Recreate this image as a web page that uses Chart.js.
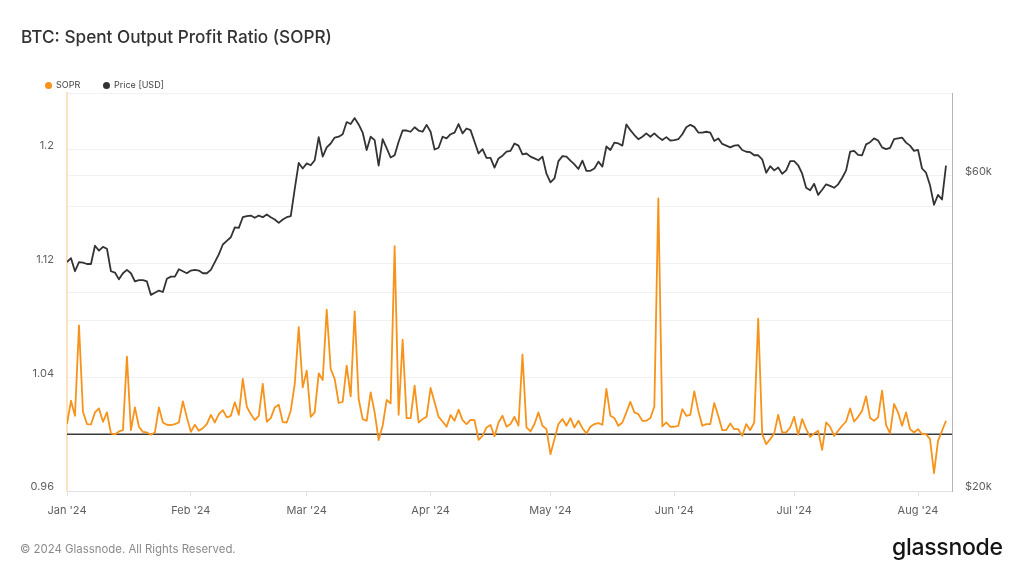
<!DOCTYPE html>
<html>
<head>
<meta charset="utf-8">
<script src="https://cdn.jsdelivr.net/npm/chart.js@4.4.1/dist/chart.umd.min.js"></script>
<style>
  html, body { margin: 0; padding: 0; background: #fff; }
  #wrap { position: relative; width: 1023px; height: 576px; overflow: hidden; font-family: Inter, "Noto Sans", sans-serif; }
  #c { position: absolute; left: 0; top: 0; }
  .title { position: absolute; left: 21px; top: 26px; font-size: 17.2px; font-weight: 500; color: #333; white-space: nowrap; }
  .legend { position: absolute; top: 78px; font-size: 9px; color: #444; white-space: nowrap; line-height: 14px; }
  .legend .dot { display: inline-block; width: 7px; height: 7px; border-radius: 50%; margin-right: 4px; vertical-align: -0.5px; }
  .footer { position: absolute; left: 20px; top: 542px; font-size: 11.4px; color: #8a8a8a; white-space: nowrap; }
  .logo { position: absolute; left: 892px; top: 533px; font-size: 23px; font-weight: 500; color: #141414; letter-spacing: -0.3px; white-space: nowrap; }
</style>
</head>
<body>
<div id="wrap">
  <canvas id="c" width="1023" height="576"></canvas>
  <div class="title">BTC: Spent Output Profit Ratio (SOPR)</div>
  <div class="legend" style="left:45px"><span class="dot" style="background:#f7931a"></span>SOPR</div>
  <div class="legend" style="left:103px"><span class="dot" style="background:#333"></span>Price [USD]</div>
  <div class="footer">© 2024 Glassnode. All Rights Reserved.</div>
  <div class="logo">glassnode</div>
</div>
<script>
// Daily values, 1 Jan 2024 .. 8 Aug 2024 (index = day of year - 1)
const sopr = [
  1.0071, 1.0235, 1.0129, 1.0765, 1.0158, 1.0071, 1.0068, 1.0153, 1.0181, 1.0087,
  1.0153, 1.0005, 0.9998, 1.0019, 1.0028, 1.0546, 1.0028, 1.0188, 1.0052, 1.0016,
  1.0012, 0.9995, 1.0012, 1.0188, 1.0082, 1.0066, 1.0064, 1.0071, 1.0082, 1.0231,
  1.0118, 1.0016, 1.0066, 1.0024, 1.0042, 1.0071, 1.0136, 1.0082, 1.0141, 1.0169,
  1.0118, 1.0129, 1.0224, 1.0136, 1.0388, 1.0193, 1.0141, 1.0099, 1.0129, 1.0353,
  1.0087, 1.0113, 1.0188, 1.0207, 1.0085, 1.0082, 1.0165, 1.0353, 1.0753, 1.0329,
  1.0447, 1.0122, 1.0153, 1.0428, 1.0381, 1.0875, 1.0459, 1.0388, 1.0219, 1.0228,
  1.0482, 1.0266, 1.0864, 1.0247, 1.0106, 1.0094, 1.0294, 1.0153, 0.9958, 1.0059,
  1.0240, 1.0216, 1.1322, 1.0136, 1.0664, 1.0113, 1.0113, 1.0341, 1.0082, 1.0106,
  1.0122, 1.0325, 1.0224, 1.0122, 1.0089, 1.0052, 1.0134, 1.0094, 1.0172, 1.0099,
  1.0071, 1.0101, 1.0099, 0.9960, 0.9988, 1.0047, 1.0064, 0.9984, 1.0082, 1.0129,
  1.0052, 1.0071, 1.0122, 1.0059, 1.0560, 1.0047, 1.0019, 1.0071, 1.0153, 1.0059,
  1.0035, 0.9859, 0.9965, 1.0071, 1.0106, 1.0059, 1.0113, 1.0047, 1.0094, 1.0042,
  1.0005, 1.0052, 1.0071, 1.0078, 1.0066, 1.0318, 1.0129, 1.0113, 1.0059, 1.0082,
  1.0153, 1.0228, 1.0153, 1.0141, 1.0094, 1.0094, 1.0113, 1.0193, 1.1659, 1.0054,
  1.0082, 1.0052, 1.0052, 1.0059, 1.0176, 1.0129, 1.0136, 1.0301, 1.0165, 1.0059,
  1.0071, 1.0071, 1.0219, 1.0129, 1.0028, 1.0028, 1.0075, 1.0035, 1.0035, 0.9988,
  1.0071, 1.0028, 1.0082, 1.0812, 1.0000, 0.9929, 0.9965, 1.0005, 1.0136, 1.0012,
  1.0012, 1.0047, 1.0122, 0.9995, 1.0106, 1.0035, 0.9981, 1.0005, 1.0024, 0.9889,
  1.0082, 1.0052, 0.9988, 1.0024, 1.0059, 1.0089, 1.0181, 1.0089, 1.0122, 1.0165,
  1.0266, 1.0113, 1.0094, 1.0118, 1.0306, 1.0064, 1.0005, 1.0212, 1.0153, 1.0059,
  1.0153, 1.0035, 1.0012, 1.0035, 1.0000, 1.0000, 0.9965, 0.9725, 0.9953, 1.0024,
  1.0094
];

// BTC price in thousands of USD
const priceK = [
  44.4, 45.0, 43.0, 44.4, 44.3, 44.1, 44.1, 47.0, 46.2, 46.8,
  46.5, 43.0, 42.8, 41.8, 42.7, 43.2, 42.7, 41.5, 41.7, 41.7,
  41.5, 39.6, 39.9, 40.2, 40.0, 41.9, 42.2, 42.2, 43.3, 43.0,
  42.7, 43.1, 43.2, 43.1, 42.7, 42.7, 43.2, 44.4, 45.6, 47.2,
  47.8, 48.4, 50.1, 50.0, 51.9, 52.1, 52.2, 51.8, 52.2, 51.9,
  52.4, 51.9, 51.5, 50.9, 51.5, 51.9, 52.1, 57.3, 62.7, 61.5,
  62.6, 62.2, 63.3, 68.6, 64.1, 66.2, 67.1, 68.5, 68.7, 69.3,
  72.3, 71.8, 73.3, 71.7, 69.7, 65.6, 68.7, 67.9, 62.1, 68.1,
  66.0, 63.9, 64.4, 67.5, 70.2, 70.2, 69.9, 71.0, 70.2, 69.9,
  71.6, 69.9, 65.7, 66.1, 68.7, 68.3, 69.3, 69.7, 71.8, 69.5,
  70.7, 70.3, 67.5, 64.8, 65.8, 63.8, 63.8, 61.7, 63.7, 64.3,
  65.2, 65.4, 67.1, 66.6, 64.6, 64.8, 64.1, 63.7, 63.3, 64.1,
  60.4, 58.6, 59.4, 63.1, 64.2, 64.1, 63.2, 62.4, 61.4, 63.2,
  61.0, 61.0, 61.5, 63.0, 61.9, 66.4, 65.6, 67.3, 67.1, 66.6,
  71.7, 70.3, 69.1, 68.1, 68.7, 69.5, 68.7, 69.5, 68.6, 67.9,
  68.6, 67.8, 67.9, 68.1, 69.3, 71.0, 71.6, 71.1, 69.7, 69.7,
  69.9, 69.7, 67.7, 68.3, 67.0, 66.6, 66.2, 66.6, 66.7, 65.6,
  65.2, 65.1, 64.4, 64.4, 63.5, 60.6, 62.0, 61.1, 61.7, 60.4,
  61.1, 63.1, 63.1, 62.2, 60.4, 57.5, 57.0, 58.3, 56.1, 57.1,
  58.2, 57.9, 57.5, 58.2, 59.5, 61.1, 65.2, 65.4, 64.5, 64.4,
  66.9, 67.4, 68.3, 67.8, 66.2, 65.8, 66.1, 68.1, 68.3, 68.5,
  67.3, 66.6, 65.4, 65.6, 61.5, 60.6, 58.0, 54.2, 56.1, 55.2,
  62.1
];

// X axis: month starts (day index) and their labels
const monthStartDays = [0, 31, 60, 91, 121, 152, 182, 213];
const monthLabels = ["Jan '24", "Feb '24", "Mar '24", "Apr '24", "May '24", "Jun '24", "Jul '24", "Aug '24"];
const xMax = 221.5;

// Left axis (SOPR)
const soprGridTicks = [0.96, 1.0, 1.04, 1.08, 1.12, 1.16, 1.2, 1.24];
const soprLabelTicks = [0.96, 1.04, 1.12, 1.2];
const soprBaseline = 1;

// Right axis (Price, log)
const priceGridTicks = [20000, 40000, 60000, 80000];
const priceLabelTicks = [20000, 60000];
const priceTickLabels = ["$20k", "$60k"];

const tickFont = { family: "Inter, 'Noto Sans', sans-serif", size: 11 };
const tickColor = '#5f5f5f';

const baselinePlugin = {
  id: 'baseline',
  beforeDatasetsDraw(chart) {
    const ys = chart.scales.y, area = chart.chartArea, ctx = chart.ctx;
    const py = ys.getPixelForValue(soprBaseline);
    ctx.save();
    ctx.strokeStyle = '#3a3a3a';
    ctx.lineWidth = 1.5;
    ctx.beginPath();
    ctx.moveTo(area.left, py);
    ctx.lineTo(area.right, py);
    ctx.stroke();
    ctx.restore();
  }
};

new Chart(document.getElementById('c'), {
  type: 'line',
  data: {
    datasets: [
      {
        label: 'Price [USD]',
        data: priceK.map((v, i) => ({ x: i, y: v * 1000 })),
        yAxisID: 'y1',
        borderColor: '#333333',
        borderWidth: 1.8,
        pointRadius: 0,
        tension: 0,
        borderJoinStyle: 'round'
      },
      {
        label: 'SOPR',
        data: sopr.map((v, i) => ({ x: i, y: v })),
        yAxisID: 'y',
        borderColor: '#f7931a',
        borderWidth: 1.8,
        pointRadius: 0,
        tension: 0,
        borderJoinStyle: 'round'
      }
    ]
  },
  options: {
    responsive: false,
    animation: false,
    events: [],
    layout: { padding: { top: 93, bottom: 50, left: 0, right: 0 } },
    plugins: { legend: { display: false }, title: { display: false }, tooltip: { enabled: false } },
    scales: {
      x: {
        type: 'linear',
        min: 0,
        max: xMax,
        afterBuildTicks: s => { s.ticks = monthStartDays.map(v => ({ value: v })); },
        afterFit: s => { s.height = 35; },
        ticks: {
          autoSkip: false,
          maxRotation: 0,
          padding: 8,
          color: tickColor,
          font: tickFont,
          callback: v => monthLabels[monthStartDays.indexOf(v)]
        },
        grid: { drawOnChartArea: false, drawTicks: true, tickLength: 5, color: '#e2e2e2' },
        border: { color: '#e2e2e2', width: 1 }
      },
      y: {
        position: 'left',
        min: 0.96,
        max: 1.24,
        afterBuildTicks: s => { s.ticks = soprGridTicks.map(v => ({ value: v })); },
        afterFit: s => { s.width = 67; },
        ticks: {
          autoSkip: false,
          padding: 13,
          labelOffset: -4,
          color: tickColor,
          font: tickFont,
          callback: v => (soprLabelTicks.includes(v) ? String(v) : '')
        },
        grid: { drawTicks: false, color: '#f1f1f1', lineWidth: 1 },
        border: { color: '#fde2c2', width: 2 }
      },
      y1: {
        type: 'logarithmic',
        position: 'right',
        min: 20000,
        max: 80000,
        afterBuildTicks: s => { s.ticks = priceGridTicks.map(v => ({ value: v })); },
        afterFit: s => { s.width = 71; },
        ticks: {
          autoSkip: false,
          padding: 13,
          labelOffset: -4,
          color: tickColor,
          font: tickFont,
          callback: v => { const k = priceLabelTicks.indexOf(v); return k >= 0 ? priceTickLabels[k] : ''; }
        },
        grid: { drawTicks: false, color: '#f1f1f1', lineWidth: 1 },
        border: { color: '#b5b5b5', width: 1 }
      }
    }
  },
  plugins: [baselinePlugin]
});
</script>
</body>
</html>
